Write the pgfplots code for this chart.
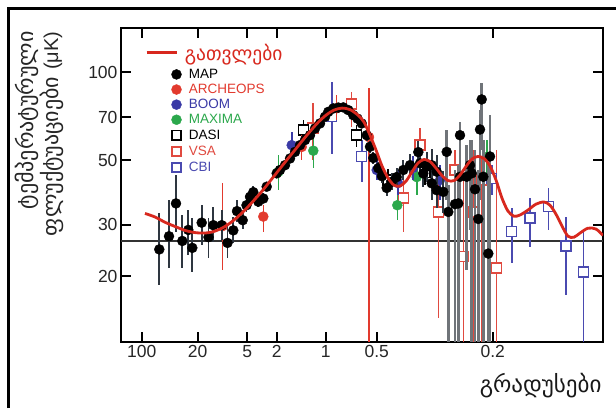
\documentclass[border=0pt]{standalone}
\usepackage{fontspec}
\usepackage{pgfplots}
\usepackage{pgfplotstable}
\pgfplotsset{compat=1.18}
\setmainfont{Liberation Sans}
\newfontfamily\geo{DejaVu Sans}

\definecolor{mapbar}{HTML}{2E3640}
\definecolor{mapgray}{HTML}{707479}
\definecolor{theory}{HTML}{D8281E}
\definecolor{arch}{HTML}{E23A2E}
\definecolor{boom}{HTML}{3A3AA6}
\definecolor{maxima}{HTML}{2BA84C}
\definecolor{vsa}{HTML}{E04A40}
\definecolor{cbi}{HTML}{4A4AB0}

% x: position along the angular-scale axis; y: temperature fluctuation (muK)
\pgfplotstableread{
x y lo hi
159.3 24.7 18.6 32.9
169.0 27.4 21.3 36.4
176.0 35.5 28.3 44.4
182.3 26.4 21.3 32.4
188.3 28.8 23.6 33.7
192.3 25.0 20.7 31.6
201.7 30.5 25.6 35.0
208.5 27.2 23.1 31.6
213.3 29.9 26.2 34.5
221.7 29.9 26.6 33.7
227.5 26.0 23.1 29.9
233.3 28.7 26.0 31.9
237.0 33.4 30.6 36.4
242.7 31.1 29.0 33.7
246.5 35.0 33.2 37.6
250.0 37.4 35.8 39.2
253.3 38.8 37.2 40.6
258.3 36.0 34.6 37.4
263.3 36.9 35.5 38.5
266.7 40.5 39.0 42.0
276.7 45.0 43.4 46.7
280.0 46.2 44.6 47.9
285.0 48.0 46.3 49.8
290.0 50.6 48.8 52.5
295.0 53.3 51.4 55.3
300.0 56.2 54.2 58.3
305.0 58.5 56.4 60.7
310.0 60.8 58.6 63.1
315.0 64.1 61.8 66.5
320.0 66.7 64.3 69.2
325.0 70.3 67.8 72.9
328.3 73.1 70.5 75.8
333.3 75.1 72.4 77.9
338.3 75.6 72.9 78.4
343.3 75.7 73.0 78.5
348.3 74.1 71.5 76.8
353.3 71.2 68.7 73.8
357.5 69.3 66.8 71.9
361.7 66.7 64.3 69.2
366.7 60.8 58.3 63.4
370.0 55.5 53.0 58.1
373.3 50.8 48.4 53.3
378.3 46.9 44.5 49.4
382.0 44.0 41.6 46.5
386.7 40.1 37.7 42.6
391.7 42.1 39.4 45.0
396.7 43.7 40.7 46.9
403.3 46.2 42.6 50.1
410.0 48.0 44.0 52.4
418.3 53.2 48.5 58.3
420.0 48.7 44.0 53.9
423.3 45.0 40.4 50.1
426.7 47.4 42.1 53.3
431.7 48.0 42.3 54.5
431.7 41.6 36.6 47.3
436.7 45.6 39.8 52.2
436.7 39.4 34.2 45.4
443.3 38.9 33.0 45.8
}\mapdata

\pgfplotstableread{
x y lo hi
446.7 53.3 36.4 63.3
448.3 33.2 8 41.0
455.0 35.3 8 46.2
458.3 35.5 8 48.0
460.0 60.8 39.4 67.4
460.0 43.8 26.6 54.1
466.7 43.8 21.0 56.2
470.0 48.0 28.8 58.5
471.7 45.0 8 58.5
475.0 39.7 8 54.1
478.3 31.4 8 46.2
480.0 63.6 36.4 74.1
481.7 80.6 54.1 91.7
483.3 43.8 8 58.5
488.3 23.9 8 48.0
490.0 51.4 8 71.2
}\mapfine

\pgfplotstableread{
x y lo hi
222.7 29.7 21.0 41.7
263.3 32.0 28.3 35.0
301.7 55.4 49.9 60.8
336.7 75.2 68.5 83.4
369.0 59.9 8 88.2
}\archeops

\pgfplotstableread{
x y lo hi
291.7 56.2 49.9 62.5
376.7 46.2 42.7 49.9
398.0 41.7 37.9 46.2
413.0 46.9 42.7 51.4
440.0 42.7 36.4 48.0
}\boomdata

\pgfplotstableread{
x y lo hi
278.3 45.5 39.4 52.0
313.3 53.8 46.8 60.0
397.3 35.0 31.1 39.4
416.7 43.7 37.9 49.9
486.7 51.2 44.0 58.5
}\maximadata

\pgfplotstableread{
x y lo hi
303.3 63.3 58.5 68.5
356.7 60.8 55.4 65.9
388.0 42.7 39.4 46.6
425.0 45.4 41.0 50.0
}\dasidata

\pgfplotstableread{
x y lo hi
313.0 64.3 49.9 78.3
351.7 77.7 64.9 85.6
403.3 37.0 28.3 46.2
420.0 56.2 46.2 64.3
438.3 33.2 14.4 44.4
455.0 46.2 30.0 54.1
463.3 23.4 8 44.4
473.3 33.2 8 54.1
481.7 42.7 8 51.4
496.7 21.3 8 54.1
}\vsadata

\pgfplotstableread{
x y lo hi
331.7 70.3 52.4 92.6
361.7 51.3 42.1 58.5
491.7 43.3 37.9 48.0
511.7 28.4 22.2 34.2
530.0 31.6 25.2 37.0
548.3 34.6 28.8 40.1
566.0 25.4 17.2 31.9
583.3 20.7 8 28.3
}\cbidata

\pgfplotstableread{
x y
145 32.8
155 31.9
165 30.6
175 29.6
185 28.7
195 28.2
205 28.1
213 28.4
222 29.2
230 30.4
238 32.0
246 34.0
254 36.4
262 39.1
270 42.3
278 45.8
286 49.6
294 53.6
302 58.0
310 62.6
318 67.2
326 71.2
334 74.1
342 75.3
350 74.4
358 71.2
364 67.4
370 60.8
376 54.1
382 47.7
388 43.4
394 41.0
400 40.7
406 42.3
412 45.5
418 48.8
424 50.2
430 49.4
436 46.9
442 44.2
448 42.5
454 42.5
460 44.4
466 47.5
472 50.4
478 51.4
484 50.6
490 47.7
496 42.7
502 37.0
508 33.4
514 32.1
520 32.4
528 33.7
536 35.3
544 35.9
550 35.0
556 32.6
562 29.7
568 27.4
574 27.2
580 28.1
588 29.2
596 29.0
603 27.6
}\theorydata

\pgfplotsset{
  table/errtab/.style={x=x, y=y,
    y error plus expr=\thisrow{hi}-\thisrow{y},
    y error minus expr=\thisrow{y}-\thisrow{lo}},
  % legend samples share one footprint so the columns line up
  markimg/.style={legend image code/.code={
      \path (-30pt,-7.35pt) (6pt,7.35pt);
      \draw[##1] plot coordinates {(0pt,0pt)};}},
  lineimg/.style={legend image code/.code={
      \path (-30pt,-12.9pt) (6pt,10pt);
      \draw[##1] (-30pt,0pt) -- (0pt,0pt);}},
}

\begin{document}
\begin{tikzpicture}
\path[use as bounding box] (0,0) rectangle (616pt,408pt);
\fill[white] (0,0) rectangle (616pt,408pt);
\draw[line width=3pt, black] (8.5pt,0pt) -- (8.5pt,399.5pt) -- (616pt,399.5pt);
\begin{axis}[
  clip marker paths=true,
  at={(121pt,66pt)}, anchor=south west,
  scale only axis, width=482pt, height=314pt,
  xmin=121, xmax=603,
  ymode=log, ymin=11.9, ymax=141.6,
  xtick={141.7,197.7,247.3,276.7,325.7,376.7,492.7},
  xticklabels={100,20,5,2,1,0.5,0.2},
  ytick={20,30,50,70,100},
  yticklabels={20,30,50,70,100},
  yminorticks=false, xminorticks=false,
  tick align=inside, major tick length=10pt,
  tick style={black, line width=2pt},
  axis line style={line width=2pt},
  /pgf/number format/assume math mode=true,
  ticklabel style={font=\fontsize{17.5}{20}\selectfont, text=black!85},
  legend style={at={(axis description cs:0.0498,0.9580)}, anchor=north west,
    draw=none, fill=none, inner sep=0pt, row sep=0pt,
    nodes={inner sep=0pt}, /tikz/column sep=5pt,
    font=\fontsize{13.5}{15}\selectfont},
  legend cell align=left,
]
% legend entries
\addlegendimage{theory, line width=2.6pt, lineimg}
\addlegendentry{\hspace*{-4pt}\geo\fontsize{19.5}{20}\selectfont\textcolor{theory}{გათვლები}}
\addlegendimage{only marks, mark=*, mark size=5pt, black, markimg}
\addlegendentry{\textcolor{black}{MAP}}
\addlegendimage{only marks, mark=*, mark size=5pt, arch, markimg}
\addlegendentry{\textcolor{arch}{ARCHEOPS}}
\addlegendimage{only marks, mark=*, mark size=5pt, boom, markimg}
\addlegendentry{\textcolor{boom}{BOOM}}
\addlegendimage{only marks, mark=*, mark size=5pt, maxima, markimg}
\addlegendentry{\textcolor{maxima}{MAXIMA}}
\addlegendimage{only marks, mark=square, mark size=4.6pt, line width=1.4pt, black, markimg}
\addlegendentry{\textcolor{black}{DASI}}
\addlegendimage{only marks, mark=square, mark size=4.6pt, line width=1.4pt, vsa, markimg}
\addlegendentry{\textcolor{vsa}{VSA}}
\addlegendimage{only marks, mark=square, mark size=4.6pt, line width=1.4pt, cbi, markimg}
\addlegendentry{\textcolor{cbi}{CBI}}

% reference level
\addplot[black!80, line width=1.4pt, forget plot] coordinates {(121,26.4) (603,26.4)};

% other experiments
\addplot[only marks, forget plot, mark=square*, mark size=5pt, vsa, line width=1.4pt,
  mark options={fill=white},
  error bars/.cd, y dir=both, y explicit, error mark=none,
  error bar style={vsa, line width=1.4pt}] table[errtab] {\vsadata};
\addplot[only marks, forget plot, mark=square*, mark size=5pt, cbi, line width=1.4pt,
  mark options={fill=white},
  error bars/.cd, y dir=both, y explicit, error mark=none,
  error bar style={cbi, line width=1.6pt}] table[errtab] {\cbidata};
\addplot[only marks, forget plot, mark=square*, mark size=5pt, black, line width=1.4pt,
  mark options={fill=white},
  error bars/.cd, y dir=both, y explicit, error mark=none,
  error bar style={black, line width=1.4pt}] table[errtab] {\dasidata};
\addplot[only marks, forget plot, mark=*, mark size=5pt, maxima,
  error bars/.cd, y dir=both, y explicit, error mark=none,
  error bar style={maxima, line width=1.6pt}] table[errtab] {\maximadata};
\addplot[only marks, forget plot, mark=*, mark size=5pt, boom,
  error bars/.cd, y dir=both, y explicit, error mark=none,
  error bar style={boom, line width=1.6pt}] table[errtab] {\boomdata};
\addplot[only marks, forget plot, mark=*, mark size=5pt, arch,
  error bars/.cd, y dir=both, y explicit, error mark=none,
  error bar style={arch, line width=1.2pt}] table[errtab] {\archeops};

% MAP
\addplot[only marks, forget plot, mark=*, mark size=5pt, mapgray,
  mark options={black},
  error bars/.cd, y dir=both, y explicit, error mark=none,
  error bar style={mapgray, line width=2.6pt}] table[errtab] {\mapfine};
\addplot[only marks, forget plot, mark=*, mark size=5pt, black,
  error bars/.cd, y dir=both, y explicit, error mark=none,
  error bar style={mapbar, line width=1.8pt}] table[errtab] {\mapdata};

% model spectrum, drawn last so it stays above the data points
\addplot[theory, line width=2.8pt, smooth, forget plot]
  table[x=x, y=y] {\theorydata};
\end{axis}
\node[rotate=90, anchor=north east, align=right, text=black!85,
  font=\geo\fontsize{22}{16.5}\selectfont] at (11.5pt,380pt)
  {ტემპერატურული\\ფლუქტუაციები {\rmfamily\fontsize{20}{16.5}\selectfont(μK)}};
\node[anchor=east, text=black!90, font=\geo\fontsize{23}{24}\selectfont]
  at (605pt,22pt) {გრადუსები};
\end{tikzpicture}
\end{document}
